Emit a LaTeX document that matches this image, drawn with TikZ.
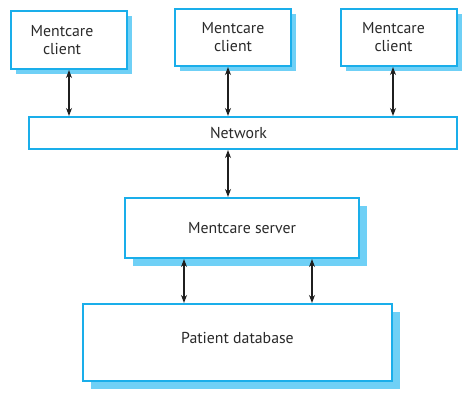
\documentclass[tikz,border=0pt]{standalone}
\usepackage{fontspec}
\setmainfont{PT Sans}
\usetikzlibrary{shadows,arrows.meta}
\definecolor{boxblue}{HTML}{1AAEEA}
\definecolor{shadowblue}{HTML}{6FD0F6}
\definecolor{txt}{HTML}{2A2A2A}
\tikzset{
  plainbox/.style={draw=boxblue, line width=1.6pt, fill=white, inner sep=0pt,
    text=txt, font=\fontsize{15.8}{18}\selectfont, align=center},
  sysbox/.style={plainbox,
    copy shadow={shadow xshift=5pt, shadow yshift=-5pt, fill=shadowblue, draw=none}},
  bigbox/.style={plainbox,
    copy shadow={shadow xshift=8pt, shadow yshift=-8pt, fill=shadowblue, draw=none}},
  arr/.style={{Stealth[length=8pt,width=6pt]}-{Stealth[length=8pt,width=6pt]}, line width=1.1pt, color=black!88}
}
\begin{document}
\begin{tikzpicture}[x=1pt,y=-1pt]
\useasboundingbox (0,0) rectangle (470,402);
\node[sysbox, minimum width=116.5pt, minimum height=58.5pt] (c1) at (69,40) {Mentcare\hspace*{14pt}\\client\hspace*{14pt}};
\node[sysbox, minimum width=116.5pt, minimum height=57.5pt] (c2) at (233,37.5) {Mentcare\\client};
\node[sysbox, minimum width=116.5pt, minimum height=57.5pt] (c3) at (399,37.5) {Mentcare\hspace*{11pt}\\client\hspace*{11pt}};
\node[plainbox, minimum width=428.5pt, minimum height=32.5pt] (net) at (243,133) {Network\hspace*{9pt}};
\node[bigbox, minimum width=234.5pt, minimum height=60.5pt] (srv) at (242,228) {Mentcare server};
\node[bigbox, minimum width=309.5pt, minimum height=77.5pt, text depth=10pt] (db) at (237.5,342.5) {Patient database};
\draw[arr] (c1.south) -- (c1.south |- net.north);
\draw[arr] ([xshift=-5pt]c2.south) -- ([xshift=-5pt]c2.south |- net.north);
\draw[arr] ([xshift=-6pt]c3.south) -- ([xshift=-6pt]c3.south |- net.north);
\draw[arr] ([xshift=-14pt]srv.north |- net.south) -- ([xshift=-14pt]srv.north);
\draw[arr] ([xshift=-58pt]srv.south) -- ([xshift=-58pt]srv.south |- db.north);
\draw[arr] ([xshift=70pt]srv.south) -- ([xshift=70pt]srv.south |- db.north);
\end{tikzpicture}
\end{document}
